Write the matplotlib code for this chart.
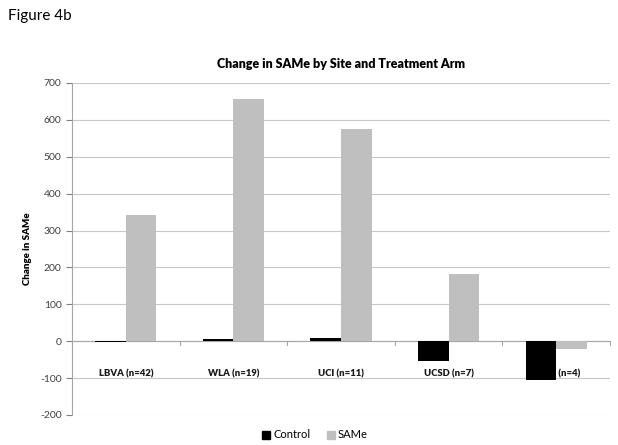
import matplotlib
matplotlib.use("Agg")
import matplotlib.pyplot as plt
import numpy as np
from matplotlib.patches import Patch

plt.rcParams['font.family'] = ['Lato', 'DejaVu Sans']
plt.rcParams['axes.unicode_minus'] = False

categories = ["LBVA (n=42)", "WLA (n=19)", "UCI (n=11)", "UCSD (n=7)", "SFVA (n=4)"]
control = [-3, 5, 8, -54, -104]
same = [342, 657, 576, 182, -20]
yticks = list(range(-200, 701, 100))

fig = plt.figure(figsize=(6.18, 4.45), dpi=100)
ax = fig.add_axes([72/618, 30/445, (610-72)/618, (415-83)/445])

x = np.arange(len(categories))
w = 0.285
ax.bar(x - w/2, control, w, color="black", zorder=3, label="Control")
ax.bar(x + w/2, same, w, color="#bfbfbf", zorder=3, label="SAMe")

ax.set_xlim(-0.5, len(categories) - 0.5)
ax.set_ylim(-200, 700)
ax.set_yticks(yticks)
ax.tick_params(axis='y', labelsize=7.5, colors="#7f7f7f", labelcolor="#404040", length=4, width=0.8)
ax.set_xticks([])
for s in ["top", "right", "bottom"]:
    ax.spines[s].set_visible(False)
ax.spines["left"].set_color("#a6a6a6")
ax.yaxis.grid(True, color="#c8c8c8", linewidth=0.8, zorder=0)
ax.set_axisbelow(True)

# category axis at zero
ax.axhline(0, color="#a6a6a6", linewidth=0.8, zorder=2)
for b in np.arange(len(categories) + 1) - 0.5:
    ax.plot([b, b], [0, -11], color="#a6a6a6", linewidth=0.8, zorder=2, clip_on=False)

for xi, c in zip(x, categories):
    ax.text(xi, -89, c, ha="center", va="center", fontsize=6.8, fontweight="heavy",
            color="#1a1a1a", zorder=1)

ax.set_ylabel("Change in SAMe", fontsize=7, fontweight="heavy", labelpad=6)
ax.set_title("Change in SAMe by Site and Treatment Arm", fontsize=9, fontweight="heavy", pad=11)

fig.text(8/618, 1 - 16/445, "Figure 4b", fontsize=11, va="center", ha="left")

handles = [Patch(color="black"), Patch(color="#bfbfbf")]
fig.legend(handles, ["Control", "SAMe"], loc="center", bbox_to_anchor=(315/618, 1 - 435/445),
           ncol=2, frameon=False, fontsize=8, handlelength=0.7, handleheight=0.7,
           handletextpad=0.3, columnspacing=1.5)

fig.savefig("out.png", dpi=100)
